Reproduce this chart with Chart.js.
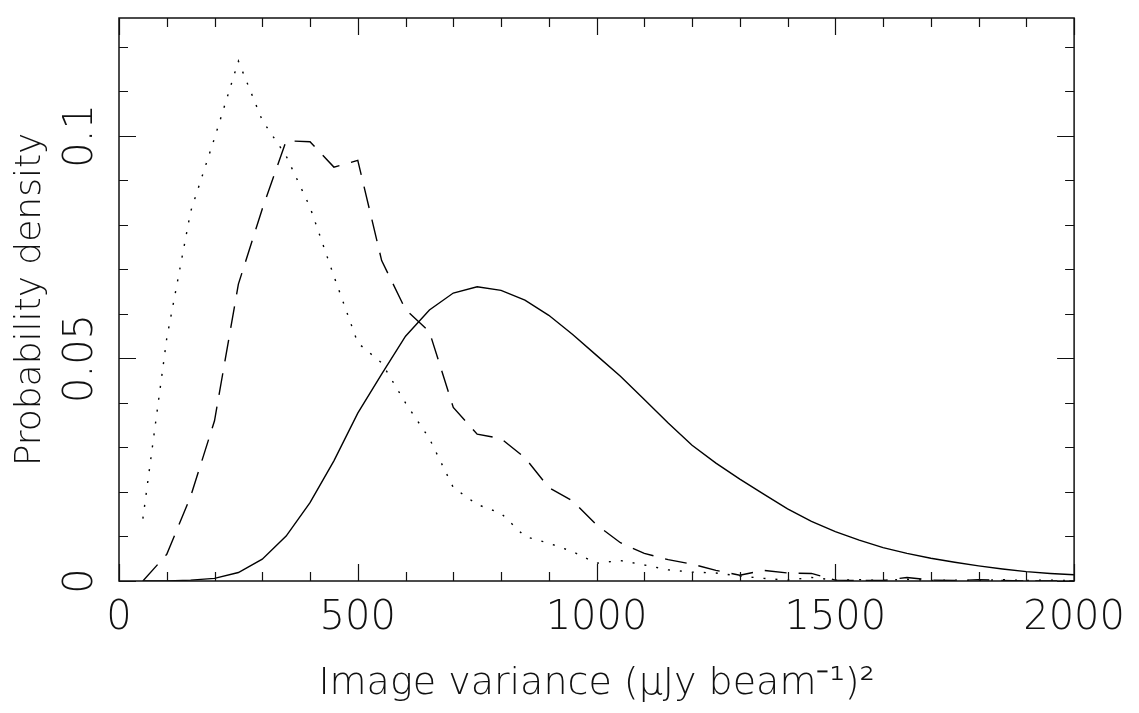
<!DOCTYPE html>
<html>
<head>
  <meta charset="UTF-8">
  <title>Image variance PDF</title>
  <script src="https://cdn.jsdelivr.net/npm/chart.js"></script>
  <style>
    body { margin: 0; background: #fff; }
  </style>
</head>
<body>
  <canvas id="pdfChart" width="1139" height="713"></canvas>
  <script>
    // x grid (image variance), shared by the three curves
    const variance = [50, 100, 150, 200, 250, 300, 350, 400, 450, 500, 550, 600, 650, 700, 750, 800,
      850, 900, 950, 1000, 1050, 1100, 1150, 1200, 1250, 1300, 1350, 1400, 1450, 1500,
      1550, 1600, 1650, 1700, 1750, 1800, 1850, 1900, 1950, 2000];

    // solid curve
    const solidPdf = [0, 0, 0.0002, 0.0006, 0.0019, 0.0049, 0.0101, 0.0176, 0.027, 0.0377,
      0.0465, 0.055, 0.0609, 0.0647, 0.0661, 0.0653, 0.0631, 0.0597, 0.0554, 0.0507,
      0.046, 0.0408, 0.0355, 0.0305, 0.0265, 0.0229, 0.0195, 0.0162, 0.0134, 0.0111,
      0.0092, 0.0075, 0.0062, 0.0051, 0.0042, 0.0034, 0.0027, 0.0021, 0.0017, 0.0014];

    // dashed curve
    const dashedPdf = [0, 0.006, 0.019, 0.036, 0.0667, 0.0836, 0.0989, 0.0987, 0.093, 0.0945,
      0.072, 0.061, 0.056, 0.039, 0.033, 0.032, 0.0277, 0.021, 0.018, 0.0126,
      0.0086, 0.0062, 0.0048, 0.0038, 0.0024, 0.0013, 0.0024, 0.0018, 0.0017, 0.0002,
      0.0001, 0.0001, 0.0008, 0.0002, 0.0001, 0.0003, 0.0001, 0, 0, 0];

    // dotted curve
    const dottedPdf = [0.014, 0.0545, 0.083, 0.0995, 0.1168, 0.1035, 0.0955, 0.084, 0.0685, 0.0535,
      0.049, 0.040, 0.032, 0.021, 0.0172, 0.0152, 0.010, 0.0085, 0.0066, 0.004,
      0.0046, 0.0036, 0.0025, 0.002, 0.0018, 0.0011, 0.0006, 0.0002, 0.0008, 0.0002,
      0.0003, 0.0001, 0.0004, 0.0001, 0.0002, 0.0001, 0.0003, 0.0001, 0.0002, 0.0001];

    const xTickLabels = [0, 500, 1000, 1500, 2000];
    const yTickLabels = [0, 0.05, 0.1];

    const FONT = "'DejaVu Sans', sans-serif";
    const INK = '#111';

    function toPoints(ys) {
      return variance.map((v, i) => ({ x: v, y: ys[i] }));
    }

    // box round the plot with PGPLOT style inward ticks
    const framePlugin = {
      id: 'frame',
      afterDatasetsDraw(chart) {
        const { ctx, chartArea: a, scales: { x, y } } = chart;
        ctx.save();
        ctx.strokeStyle = INK;
        ctx.lineWidth = 1.5;
        ctx.strokeRect(a.left, a.top, a.right - a.left, a.bottom - a.top);
        ctx.lineWidth = 1.2;
        ctx.beginPath();
        for (let v = 0; v <= 2000; v += 100) {
          const px = Math.round(x.getPixelForValue(v)) + 0.5;
          const len = v % 500 === 0 ? 17 : 9;
          ctx.moveTo(px, a.bottom); ctx.lineTo(px, a.bottom - len);
          ctx.moveTo(px, a.top); ctx.lineTo(px, a.top + len);
        }
        for (let k = 0; k <= 12; k++) {
          const py = Math.round(y.getPixelForValue(k / 100)) + 0.5;
          const len = k % 5 === 0 ? 17 : 9;
          ctx.moveTo(a.left, py); ctx.lineTo(a.left + len, py);
          ctx.moveTo(a.right, py); ctx.lineTo(a.right - len, py);
        }
        ctx.stroke();
        ctx.restore();
      }
    };

    const lineStyle = { borderColor: '#000', borderWidth: 1.4, pointRadius: 0, tension: 0, fill: false };

    new Chart(document.getElementById('pdfChart'), {
      type: 'line',
      data: {
        datasets: [
          Object.assign({ label: 'solid', data: toPoints(solidPdf) }, lineStyle),
          Object.assign({ label: 'dashed', data: toPoints(dashedPdf), borderDash: [22, 12] }, lineStyle),
          Object.assign({ label: 'dotted', data: toPoints(dottedPdf), borderDash: [2, 10] }, lineStyle)
        ]
      },
      options: {
        responsive: false,
        animation: false,
        layout: { padding: { top: 18, right: 60, left: 0, bottom: 0 } },
        plugins: { legend: { display: false }, tooltip: { enabled: false } },
        scales: {
          x: {
            type: 'linear', min: 0, max: 2000,
            afterFit: s => { s.height = 132; },
            afterBuildTicks: s => { s.ticks = xTickLabels.map(v => ({ value: v })); },
            grid: { display: false, drawTicks: false },
            border: { display: false },
            ticks: {
              autoSkip: false, maxRotation: 0, padding: 14, color: INK,
              font: { family: FONT, size: 40, weight: 200 },
              callback: v => String(v)
            },
            title: {
              display: true, text: 'Image variance (\u03bcJy beam\u207b\u00b9)\u00b2', color: INK,
              font: { family: FONT, size: 38, weight: 200 },
              padding: { top: 0, bottom: 6 }
            }
          },
          y: {
            type: 'linear', min: 0, max: 0.1265,
            afterFit: s => { s.width = 119; },
            afterBuildTicks: s => { s.ticks = yTickLabels.map(v => ({ value: v })); },
            grid: { display: false, drawTicks: false },
            border: { display: false },
            ticks: {
              autoSkip: false, minRotation: 90, maxRotation: 90, crossAlign: 'center', padding: -7,
              color: INK, font: { family: FONT, size: 40, weight: 200 },
              callback: v => String(v)
            },
            title: {
              display: true, text: 'Probability density', color: INK,
              font: { family: FONT, size: 36, weight: 200 },
              padding: { top: 9, bottom: 0 }
            }
          }
        }
      },
      plugins: [framePlugin]
    });
  </script>
</body>
</html>
